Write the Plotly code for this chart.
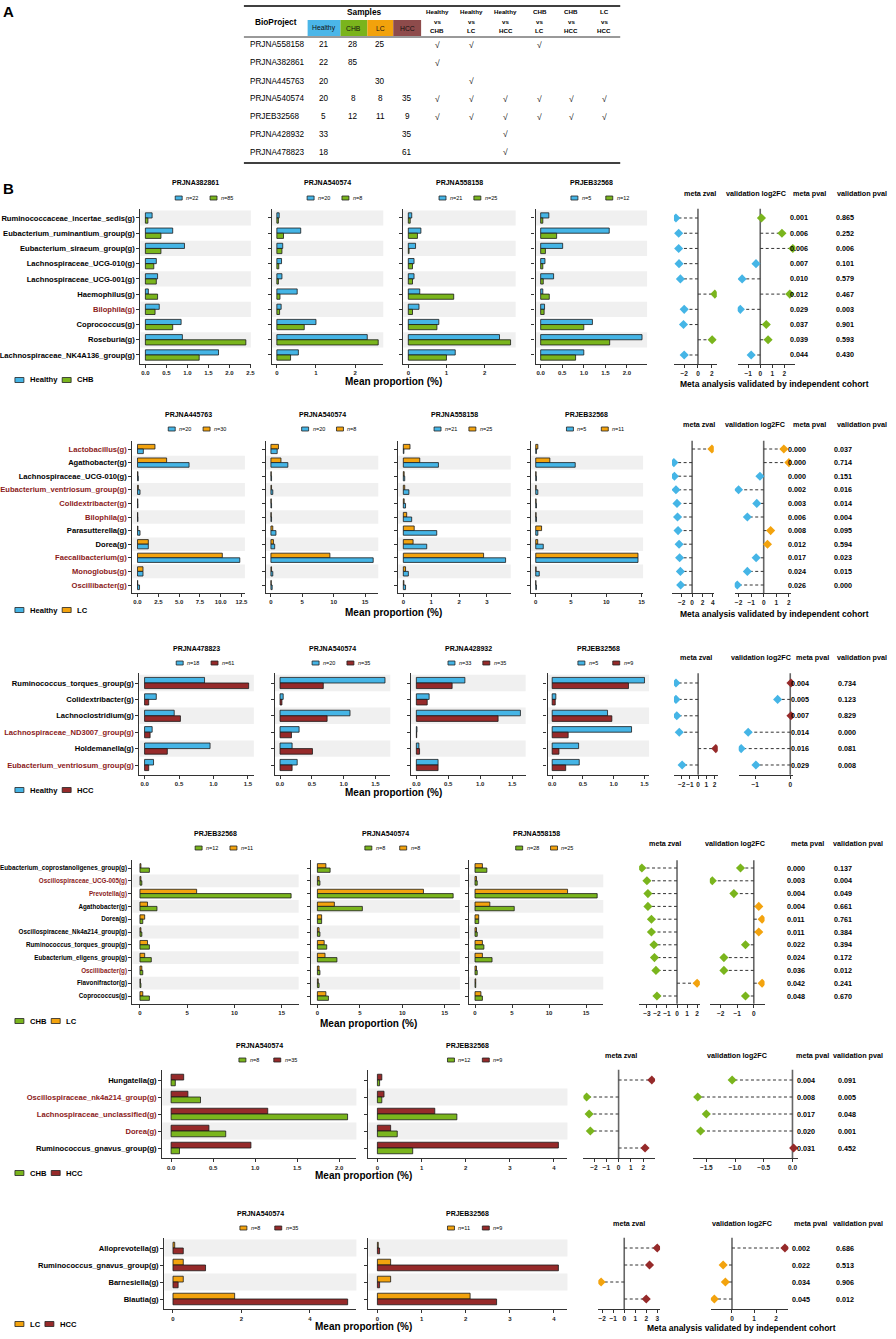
import plotly.graph_objects as go

W, H = 896, 1339
FONT = "Liberation Sans, Arial, sans-serif"

COL = {"Healthy": "#45B5E6", "CHB": "#7AB51D", "LC": "#F3A30E", "HCC": "#962A2A"}
TBL_COL = {"Healthy": "#4BB6E8", "CHB": "#7AB41C", "LC": "#F2A20C", "HCC": "#8E4B4B"}
RED = "#8B1A1A"

# ---------------- panel A : cohort table ----------------
tbl_projects = ["PRJNA558158", "PRJNA382861", "PRJNA445763", "PRJNA540574",
                "PRJEB32568", "PRJNA428932", "PRJNA478823"]
tbl_healthy = ["21", "22", "20", "20", "5", "33", "18"]
tbl_chb = ["28", "85", "", "8", "12", "", ""]
tbl_lc = ["25", "", "30", "8", "11", "", ""]
tbl_hcc = ["", "", "", "35", "9", "35", "61"]
tbl_groups = ["Healthy", "CHB", "LC", "HCC"]
tbl_comparisons = [("Healthy", "CHB"), ("Healthy", "LC"), ("Healthy", "HCC"),
                   ("CHB", "LC"), ("CHB", "HCC"), ("LC", "HCC")]
tbl_checks = [[1, 1, 0, 1, 0, 0],
              [1, 0, 0, 0, 0, 0],
              [0, 1, 0, 0, 0, 0],
              [1, 1, 1, 1, 1, 1],
              [1, 1, 1, 1, 1, 1],
              [0, 0, 1, 0, 0, 0],
              [0, 0, 1, 0, 0, 0]]

# ---------------- panel B row 1 : Healthy vs CHB ----------------
r1_taxa = ["Ruminococcaceae_incertae_sedis(g)", "Eubacterium_ruminantium_group(g)",
           "Eubacterium_siraeum_group(g)", "Lachnospiraceae_UCG-010(g)",
           "Lachnospiraceae_UCG-001(g)", "Haemophilus(g)", "Bilophila(g)",
           "Coprococcus(g)", "Roseburia(g)", "Lachnospiraceae_NK4A136_group(g)"]
r1_red = [0, 0, 0, 0, 0, 0, 1, 0, 0, 0]
r1_projects = ["PRJNA382861", "PRJNA540574", "PRJNA558158", "PRJEB32568"]
r1_n1 = [22, 20, 21, 5]
r1_n2 = [85, 8, 25, 12]
r1_healthy = [[0.16, 0.65, 0.93, 0.26, 0.29, 0.07, 0.33, 0.85, 0.88, 1.74],
              [0.06, 0.61, 0.15, 0.12, 0.13, 0.52, 0.11, 1.00, 2.31, 0.55],
              [0.09, 0.33, 0.19, 0.15, 0.15, 0.30, 0.28, 0.80, 2.39, 1.23],
              [0.19, 1.59, 0.51, 0.10, 0.30, 0.05, 0.09, 1.20, 2.35, 1.00]]
r1_chb = [[0.06, 0.37, 0.37, 0.20, 0.26, 0.29, 0.23, 0.65, 2.39, 1.28],
          [0.04, 0.17, 0.13, 0.05, 0.04, 0.08, 0.07, 0.70, 2.59, 0.35],
          [0.05, 0.24, 0.02, 0.11, 0.11, 1.19, 0.11, 0.75, 2.68, 1.00],
          [0.05, 0.37, 0.11, 0.05, 0.06, 0.20, 0.08, 1.00, 1.60, 0.81]]
r1_zval = [-3.2, -2.8, -2.8, -2.75, -2.55, 2.45, -2.0, -2.1, 2.06, -2.0]
r1_log2fc = [0.1, 1.8, 2.7, -0.35, -1.5, 2.45, -1.65, 0.5, 0.65, -0.75]
r1_meta_p = ["0.001", "0.006", "0.006", "0.007", "0.010", "0.012", "0.029", "0.037", "0.039", "0.044"]
r1_valid_p = ["0.865", "0.252", "0.006", "0.101", "0.579", "0.467", "0.003", "0.901", "0.593", "0.430"]

# ---------------- row 2 : Healthy vs LC ----------------
r2_taxa = ["Lactobacillus(g)", "Agathobacter(g)", "Lachnospiraceae_UCG-010(g)",
           "Eubacterium_ventriosum_group(g)", "Colidextribacter(g)", "Bilophila(g)",
           "Parasutterella(g)", "Dorea(g)", "Faecalibacterium(g)", "Monoglobus(g)",
           "Oscillibacter(g)"]
r2_red = [1, 0, 0, 1, 1, 1, 0, 0, 1, 1, 1]
r2_projects = ["PRJNA445763", "PRJNA540574", "PRJNA558158", "PRJEB32568"]
r2_n1 = [20, 20, 21, 5]
r2_n2 = [30, 8, 25, 11]
r2_healthy = [[0.70, 6.2, 0.10, 0.30, 0.05, 0.05, 0.30, 1.30, 12.3, 0.66, 0.24],
              [1.00, 2.7, 0.10, 0.30, 0.10, 0.10, 0.80, 0.60, 16.3, 0.30, 0.20],
              [0.02, 1.26, 0.05, 0.20, 0.08, 0.30, 1.20, 0.84, 3.67, 0.18, 0.08],
              [0.10, 5.6, 0.10, 0.30, 0.10, 0.10, 0.30, 1.07, 14.5, 0.50, 0.10]]
r2_lc = [[2.10, 3.5, 0.05, 0.10, 0.03, 0.03, 0.05, 1.30, 10.2, 0.66, 0.02],
         [1.20, 1.6, 0.05, 0.10, 0.05, 0.05, 0.30, 0.40, 9.4, 0.10, 0.05],
         [0.24, 0.59, 0.03, 0.05, 0.03, 0.12, 0.39, 0.35, 2.88, 0.08, 0.02],
         [0.30, 2.0, 0.05, 0.05, 0.05, 0.05, 0.83, 0.28, 14.5, 0.05, 0.02]]
r2_zval = [3.8, -3.5, -3.4, -3.1, -2.9, -2.8, -2.7, -2.5, -2.4, -2.25, -2.2]
r2_log2fc = [1.6, 2.0, -0.3, -2.0, -0.55, -1.3, 0.55, 0.3, -0.6, -1.3, -2.1]
r2_meta_p = ["0.000", "0.000", "0.000", "0.002", "0.003", "0.006", "0.008", "0.012", "0.017", "0.024", "0.026"]
r2_valid_p = ["0.037", "0.714", "0.151", "0.016", "0.014", "0.004", "0.095", "0.594", "0.023", "0.015", "0.000"]

# ---------------- row 3 : Healthy vs HCC ----------------
r3_taxa = ["Ruminococcus_torques_group(g)", "Colidextribacter(g)", "Lachnoclostridium(g)",
           "Lachnospiraceae_ND3007_group(g)", "Holdemanella(g)", "Eubacterium_ventriosum_group(g)"]
r3_red = [0, 0, 0, 1, 0, 1]
r3_projects = ["PRJNA478823", "PRJNA540574", "PRJNA428932", "PRJEB32568"]
r3_n1 = [18, 20, 33, 5]
r3_n2 = [61, 35, 35, 9]
r3_healthy = [[0.87, 0.17, 0.43, 0.11, 0.95, 0.13],
              [1.65, 0.05, 1.10, 0.30, 0.19, 0.27],
              [0.76, 0.20, 1.63, 0.01, 0.04, 0.34],
              [1.50, 0.06, 0.90, 1.29, 0.43, 0.44]]
r3_hcc = [[1.51, 0.06, 0.52, 0.08, 0.33, 0.06],
          [0.68, 0.03, 0.74, 0.18, 0.51, 0.19],
          [0.56, 0.17, 1.28, 0.005, 0.05, 0.34],
          [1.24, 0.05, 0.97, 0.26, 0.11, 0.22]]
r3_zval = [-2.7, -2.7, -2.6, -2.3, 2.15, -1.95]
r3_log2fc = [0.02, -0.36, 0.02, -1.2, -1.4, -0.98]
r3_meta_p = ["0.004", "0.005", "0.007", "0.014", "0.016", "0.029"]
r3_valid_p = ["0.734", "0.123", "0.829", "0.000", "0.081", "0.008"]

# ---------------- row 4 : CHB vs LC ----------------
r4_taxa = ["Eubacterium_coprostanoligenes_group(g)", "Oscillospiraceae_UCG-005(g)", "Prevotella(g)",
           "Agathobacter(g)", "Dorea(g)", "Oscillospiraceae_Nk4a214_group(g)",
           "Ruminococcus_torques_group(g)", "Eubacterium_eligens_group(g)", "Oscillibacter(g)",
           "Flavonifractor(g)", "Coprococcus(g)"]
r4_red = [0, 1, 1, 0, 0, 0, 0, 0, 1, 0, 0]
r4_projects = ["PRJEB32568", "PRJNA540574", "PRJNA558158"]
r4_n1 = [12, 8, 28]
r4_n2 = [11, 8, 25]
r4_chb = [[1.0, 0.2, 16.0, 1.8, 0.3, 0.2, 1.0, 1.2, 0.3, 0.1, 1.0],
          [1.5, 0.3, 16.0, 5.3, 0.5, 0.3, 1.1, 2.3, 0.3, 0.2, 1.3],
          [1.6, 0.3, 16.5, 5.3, 0.5, 0.3, 1.2, 2.3, 0.3, 0.1, 1.0]]
r4_lc = [[0.1, 0.1, 6.0, 0.8, 0.5, 0.1, 0.8, 0.5, 0.2, 0.05, 0.3],
         [1.0, 0.2, 12.5, 2.0, 0.5, 0.2, 0.8, 0.9, 0.2, 0.1, 1.0],
         [1.0, 0.2, 12.5, 2.0, 0.5, 0.2, 1.0, 1.0, 0.2, 0.1, 0.8]]
r4_zval = [-3.5, -3.0, -2.9, -2.9, -2.55, -2.55, -2.3, -2.25, -2.1, 2.0, -2.0]
r4_log2fc = [-0.8, -2.5, -1.2, 0.3, 0.5, 0.3, -0.5, -1.8, -1.8, 0.5, -0.5]
r4_meta_p = ["0.000", "0.003", "0.004", "0.004", "0.011", "0.011", "0.022", "0.024", "0.036", "0.042", "0.048"]
r4_valid_p = ["0.137", "0.004", "0.049", "0.661", "0.761", "0.384", "0.394", "0.172", "0.012", "0.241", "0.670"]

# ---------------- row 5 : CHB vs HCC ----------------
r5_taxa = ["Hungatella(g)", "Oscillospiraceae_nk4a214_group(g)", "Lachnospiraceae_unclassified(g)",
           "Dorea(g)", "Ruminococcus_gnavus_group(g)"]
r5_red = [0, 1, 1, 1, 0]
r5_projects = ["PRJNA540574", "PRJEB32568"]
r5_n1 = [8, 12]
r5_n2 = [35, 9]
r5_chb = [[0.05, 0.35, 2.1, 0.65, 0.1],
          [0.05, 0.1, 1.8, 0.45, 0.8]]
r5_hcc = [[0.15, 0.2, 1.15, 0.45, 0.95],
          [0.1, 0.15, 1.3, 0.3, 4.1]]
r5_zval = [2.7, -2.6, -2.4, -2.3, 2.15]
r5_log2fc = [-1.05, -1.65, -1.5, -1.6, 0.02]
r5_meta_p = ["0.004", "0.008", "0.017", "0.020", "0.031"]
r5_valid_p = ["0.091", "0.005", "0.048", "0.001", "0.452"]

# ---------------- row 6 : LC vs HCC ----------------
r6_taxa = ["Alloprevotella(g)", "Ruminococcus_gnavus_group(g)", "Barnesiella(g)", "Blautia(g)"]
r6_red = [0, 0, 0, 0]
r6_projects = ["PRJNA540574", "PRJEB32568"]
r6_n1 = [8, 11]
r6_n2 = [35, 9]
r6_lc = [[0.05, 0.3, 0.3, 1.8],
         [0.02, 0.3, 0.3, 2.1]]
r6_hcc = [[0.3, 0.95, 0.15, 5.1],
          [0.05, 4.1, 0.05, 2.7]]
r6_zval = [3.0, 2.3, -2.1, 2.0]
r6_log2fc = [2.4, -0.4, -0.3, -0.8]
r6_meta_p = ["0.002", "0.022", "0.034", "0.045"]
r6_valid_p = ["0.686", "0.513", "0.906", "0.012"]

# row definitions: data + placement (pixels)
rows = [
    dict(taxa=r1_taxa, red=r1_red, projects=r1_projects, n1=r1_n1, n2=r1_n2,
         groups=("Healthy", "CHB"), v1=r1_healthy, v2=r1_chb, top=1,
         z=r1_zval, f=r1_log2fc, mp=r1_meta_p, vp=r1_valid_p,
         y=(218, 355), panels=[(141, 252), (273, 385), (405, 518), (538, 650)],
         dt=[0.5, 1, 1, 0.5], zx=(677, 720), fx=(741, 799), zdt=2, fdt=1,
         px=(814, 860), hx=(703, 759, 813, 866), xt=395, foot=778, lab=7.6),
    dict(taxa=r2_taxa, red=r2_red, projects=r2_projects, n1=r2_n1, n2=r2_n2,
         groups=("Healthy", "LC"), v1=r2_healthy, v2=r2_lc, top=2,
         z=r2_zval, f=r2_log2fc, mp=r2_meta_p, vp=r2_valid_p,
         y=(449, 585), panels=[(133, 246), (267, 380), (400, 513), (533, 646)],
         dt=[2.5, 5, 1, 5], zx=(675, 717), fx=(738, 795), zdt=2, fdt=1,
         px=(812, 858), hx=(702, 758, 813, 866), xt=395, foot=778, lab=7.6),
    dict(taxa=r3_taxa, red=r3_red, projects=r3_projects, n1=r3_n1, n2=r3_n2,
         groups=("Healthy", "HCC"), v1=r3_healthy, v2=r3_hcc, top=1,
         z=r3_zval, f=r3_log2fc, mp=r3_meta_p, vp=r3_valid_p,
         y=(683, 765), panels=[(140, 255), (276, 392), (413, 528), (550, 652)],
         dt=[0.5, 0.5, 0.5, 0.5], zx=(677, 721), fx=(742, 797), zdt=1, fdt=1,
         px=(815, 862), hx=(699, 764, 816, 866), xt=395, foot=None, lab=7.6),
    dict(taxa=r4_taxa, red=r4_red, projects=r4_projects, n1=r4_n1, n2=r4_n2,
         groups=("CHB", "LC"), v1=r4_chb, v2=r4_lc, top=2,
         z=r4_zval, f=r4_log2fc, mp=r4_meta_p, vp=r4_valid_p,
         y=(868, 996), panels=[(133, 300), (312, 462), (471, 606)],
         dt=[5, 5, 5], zx=(642, 703), fx=(713, 768), zdt=1, fdt=1,
         px=(811, 858), hx=(668, 738, 811, 862), xt=370, foot=None, lab=6.3),
    dict(taxa=r5_taxa, red=r5_red, projects=r5_projects, n1=r5_n1, n2=r5_n2,
         groups=("CHB", "HCC"), v1=r5_chb, v2=r5_hcc, top=2,
         z=r5_zval, f=r5_log2fc, mp=r5_meta_p, vp=r5_valid_p,
         y=(1080, 1148), panels=[(163, 358), (370, 570)],
         dt=[0.5, 1], zx=(586, 658), fx=(696, 802), zdt=1, fdt=0.5,
         px=(821, 862), hx=(624, 740, 816, 862), xt=365, foot=None, lab=7.6),
    dict(taxa=r6_taxa, red=r6_red, projects=r6_projects, n1=r6_n1, n2=r6_n2,
         groups=("LC", "HCC"), v1=r6_lc, v2=r6_hcc, top=1,
         z=r6_zval, f=r6_log2fc, mp=r6_meta_p, vp=r6_valid_p,
         y=(1248, 1299), panels=[(165, 358), (370, 570)],
         dt=[2, 1], zx=(601, 663), fx=(714, 792), zdt=1, fdt=1,
         px=(816, 860), hx=(632, 745, 814, 862), xt=365, foot=745, lab=7.6),
]

fig = go.Figure()
shapes, annos = [], []
n_ax = 0

# rough Arial-bold advance widths (em) for legend spacing
CHAR_W = {"H": 0.722, "C": 0.722, "B": 0.722, "L": 0.611, "e": 0.556, "a": 0.556,
          "l": 0.278, "t": 0.333, "h": 0.611, "y": 0.556}


def px(x):
    return x / W


def py(y):
    return 1 - y / H


def text(x, y, s, size=7, bold=True, color="black", xanchor="center", yanchor="middle"):
    annos.append(dict(x=px(x), y=py(y), xref="paper", yref="paper", text=s, showarrow=False,
                      xanchor=xanchor, yanchor=yanchor,
                      font=dict(family=FONT, size=size, color=color,
                                weight="bold" if bold else "normal")))


def box(x0, y0, x1, y1, fill, lw=0.8):
    shapes.append(dict(type="rect", xref="paper", yref="paper", x0=px(x0), x1=px(x1),
                       y0=py(y1), y1=py(y0), fillcolor=fill, line=dict(color="#222", width=lw)))


def hline(x0, x1, y, lw=1.0):
    shapes.append(dict(type="line", xref="paper", yref="paper", x0=px(x0), x1=px(x1),
                       y0=py(y), y1=py(y), line=dict(color="black", width=lw)))


def axes(x0, x1, y0, y1):
    global n_ax
    n_ax += 1
    s = "" if n_ax == 1 else str(n_ax)
    return "x" + s, "y" + s, "xaxis" + s, "yaxis" + s, [px(x0), px(x1)], [py(y1), py(y0)]


def pad_range(lo, hi):
    lo, hi = min(lo, 0), max(hi, 0)
    s = hi - lo
    return [lo - 0.05 * s, hi + 0.05 * s]


tick_font = dict(family=FONT, size=6, color="#222", weight="bold")
line_style = dict(showline=True, linecolor="#333", linewidth=1.2, ticks="outside",
                  ticklen=3, tickwidth=1, tickcolor="#333", showgrid=False, zeroline=False,
                  tickangle=0)

# ---------------- draw panel A ----------------
text(9, 12, "A", size=15)
hline(245, 623, 6, 1.6)
hline(245, 623, 37, 0.8)
hline(245, 623, 163, 1.6)
text(277, 22, "BioProject", size=8.3)
text(366, 12.5, "Samples", size=8.3)
grp_x = [(309, 342), (342, 369), (369, 395), (395, 423)]
for g, (a, b) in zip(tbl_groups, grp_x):
    shapes.append(dict(type="rect", xref="paper", yref="paper", x0=px(a), x1=px(b),
                       y0=py(36), y1=py(20), fillcolor=TBL_COL[g], line=dict(width=0)))
    text((a + b) / 2, 28, g, size=6.8, bold=False, color="#111")
comp_x = [439, 474, 508, 542, 574, 607]
for (g1, g2), cx in zip(tbl_comparisons, comp_x):
    text(cx, 11.5, g1, size=6.2)
    text(cx, 21.5, "vs", size=6.2)
    text(cx, 31, g2, size=6.2)
row_y = [45, 63, 81, 99, 117, 134, 152]
num_x = [325, 355, 382, 409]
for i, proj in enumerate(tbl_projects):
    text(249, row_y[i], proj, size=8.2, bold=False, xanchor="left")
    for col, cx in zip([tbl_healthy, tbl_chb, tbl_lc, tbl_hcc], num_x):
        if col[i]:
            text(cx, row_y[i], col[i], size=8.2, bold=False)
    for j, cx in enumerate(comp_x):
        if tbl_checks[i][j]:
            text(cx, row_y[i], "√", size=8.5, bold=False)

text(9, 188, "B", size=15)

# ---------------- draw panel B rows ----------------
for cfg in rows:
    taxa = cfg["taxa"]
    n = len(taxa)
    y_first, y_last = cfg["y"]
    sp = (y_last - y_first) / (n - 1)
    ytop, ybot = y_first - 0.6 * sp, y_last + 0.6 * sp
    yrange = [n - 1 + 0.6, -0.6]
    g1, g2 = cfg["groups"]
    labels = [f"<span style='color:{RED}'>{t}</span>" if r else t
              for t, r in zip(taxa, cfg["red"])]

    for k, proj in enumerate(cfg["projects"]):
        x0, x1 = cfg["panels"][k]
        xa, ya, xk, yk, xd, yd = axes(x0, x1, ytop, ybot)
        v1, v2 = cfg["v1"][k], cfg["v2"][k]
        series = [(g1, v1), (g2, v2)]
        if cfg["top"] == 2:
            series = series[::-1]
        for g, v in series:
            fig.add_trace(go.Bar(x=v, y=list(range(n)), orientation="h", xaxis=xa, yaxis=ya,
                                 marker=dict(color=COL[g], line=dict(color="#1a1a1a", width=0.8)),
                                 showlegend=False, hoverinfo="skip"))
        dt = cfg["dt"][k]
        fig.update_layout(**{
            xk: dict(domain=xd, anchor=ya, range=pad_range(0, max(max(v1), max(v2))),
                     dtick=dt, tick0=0, tickformat="d" if float(dt).is_integer() else ".1f",
                     tickfont=tick_font, **line_style),
            yk: dict(domain=yd, anchor=xa, range=yrange, tickvals=list(range(n)),
                     ticktext=labels if k == 0 else [""] * n,
                     tickfont=dict(family=FONT, size=cfg["lab"], color="black", weight="bold"),
                     **line_style),
        })
        for i in range(n):
            if (n - i) % 2 == 0:
                shapes.append(dict(type="rect", xref=xa + " domain", yref=ya, x0=0, x1=1,
                                   y0=i - 0.5, y1=i + 0.5, fillcolor="#F0F0F0",
                                   line=dict(width=0), layer="below"))
        cx = (x0 + x1) / 2
        text(cx, y_first - 35, proj, size=7)
        ly = y_first - 20
        box(cx - 20.5, ly - 2, cx - 13.5, ly + 2, COL[g1])
        text(cx - 11.5, ly, f"<i>n</i>={cfg['n1'][k]}", size=5.5, bold=False, xanchor="left")
        box(cx + 14.5, ly - 2, cx + 21.5, ly + 2, COL[g2])
        text(cx + 23.5, ly, f"<i>n</i>={cfg['n2'][k]}", size=5.5, bold=False, xanchor="left")

    # forest-style columns
    fx_list = [(cfg["z"], cfg["zx"], cfg["zdt"], "meta zval", cfg["hx"][0]),
               (cfg["f"], cfg["fx"], cfg["fdt"], "validation log2FC", cfg["hx"][1])]
    for vals, (x0, x1), dt, head, hxx in fx_list:
        xa, ya, xk, yk, xd, yd = axes(x0, x1, ytop, ybot)
        xs, ys = [], []
        for i, v in enumerate(vals):
            xs += [0, v, None]
            ys += [i, i, None]
        fig.add_trace(go.Scatter(x=xs, y=ys, mode="lines", xaxis=xa, yaxis=ya,
                                 line=dict(color="#333", width=1, dash="3px,2.5px"),
                                 showlegend=False, hoverinfo="skip"))
        fig.add_trace(go.Scatter(x=vals, y=list(range(n)), mode="markers", xaxis=xa, yaxis=ya,
                                 marker=dict(symbol="diamond", size=7,
                                             color=[COL[g2] if v > 0 else COL[g1] for v in vals]),
                                 showlegend=False, hoverinfo="skip"))
        shapes.append(dict(type="line", xref=xa, yref=ya + " domain", x0=0, x1=0, y0=0, y1=1,
                           line=dict(color="#666", width=1.6), layer="below"))
        fig.update_layout(**{
            xk: dict(domain=xd, anchor=ya, range=pad_range(min(vals), max(vals)), dtick=dt,
                     tick0=0, tickformat="d" if float(dt).is_integer() else ".1f",
                     tickfont=dict(family=FONT, size=6.5, color="#222", weight="bold"),
                     **line_style),
            yk: dict(domain=yd, anchor=xa, range=yrange, visible=False),
        })
        text(hxx, y_first - 25, head, size=7.2)
        if head == "meta zval":
            pval_axis = ya

    text(cfg["hx"][2], y_first - 25, "meta pval", size=7.2)
    text(cfg["hx"][3], y_first - 25, "validation pval", size=7.2)
    for i in range(n):
        for s, xx in zip((cfg["mp"][i], cfg["vp"][i]), cfg["px"]):
            annos.append(dict(x=px(xx), y=i, xref="paper", yref=pval_axis, text=s,
                              showarrow=False, font=dict(family=FONT, size=7.2, color="black",
                                                         weight="bold")))

    # axis title, group legend, footer
    text(cfg["xt"], y_last + 27, "Mean proportion (%)", size=10)
    gy = y_last + 25
    box(15, gy - 2.5, 24, gy + 2.5, COL[g1])
    text(28, gy, g1, size=7.6, xanchor="left")
    x2 = 28 + sum(CHAR_W.get(c, 0.6) for c in g1) * 7.6 + 7
    box(x2, gy - 2.5, x2 + 9, gy + 2.5, COL[g2])
    text(x2 + 13, gy, g2, size=7.6, xanchor="left")
    if cfg["foot"]:
        text(cfg["foot"], y_last + 29, "Meta analysis validated by independent cohort", size=8.5)

fig.update_layout(
    width=W, height=H, margin=dict(l=0, r=0, t=0, b=0),
    paper_bgcolor="white", plot_bgcolor="rgba(0,0,0,0)",
    barmode="group", bargap=0.32, bargroupgap=0,
    showlegend=False, shapes=shapes, annotations=annos,
    font=dict(family=FONT),
)

fig.write_html("out.html", config={"displayModeBar": False},
               post_script="document.body.style.margin='0px';")
